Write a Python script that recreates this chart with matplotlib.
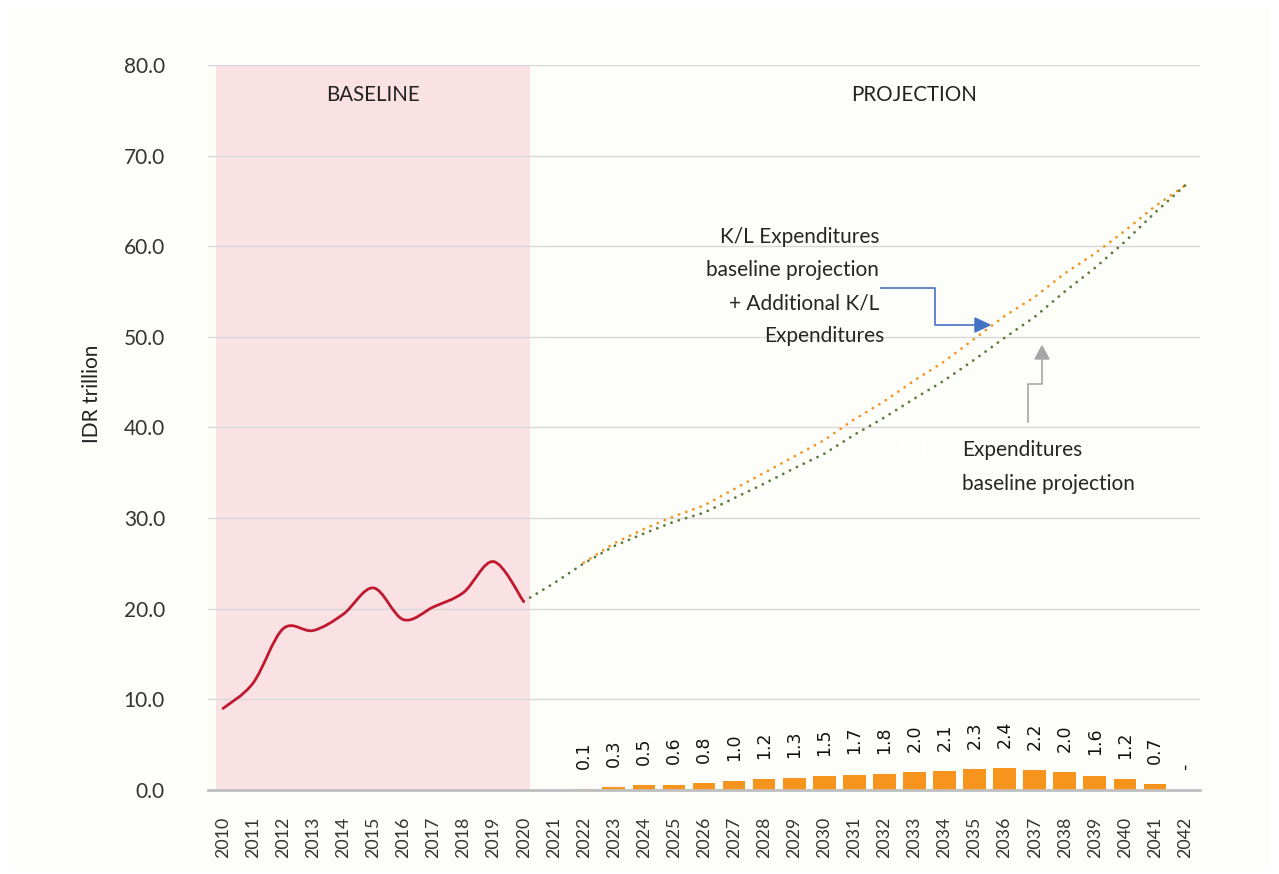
import numpy as np
import matplotlib
matplotlib.use("Agg")
import matplotlib.pyplot as plt
from matplotlib.path import Path
from matplotlib.patches import PathPatch, Rectangle

plt.rcParams['font.family'] = ['Lato', 'DejaVu Sans']

years = list(range(2010, 2043))

# historical K/L expenditures (2010-2020)
hist_years = list(range(2010, 2021))
hist_vals = [9.0, 11.8, 17.8, 17.6, 19.4, 22.3, 18.8, 20.2, 21.8, 25.2, 20.8]

# baseline projection (2020-2042)
base_years = list(range(2020, 2043))
base_vals = [20.8, 22.8, 25.0, 26.9, 28.3, 29.6, 30.6, 32.2, 33.8, 35.5, 37.1,
             39.2, 41.1, 43.2, 45.2, 47.5, 49.9, 52.2, 55.0, 57.6, 60.5, 63.7, 66.7]

# baseline + additional (2022-2042)
add_years = list(range(2022, 2043))
add_total = [25.1, 27.2, 28.8, 30.2, 31.4, 33.2, 35.0, 36.8, 38.6, 40.9, 42.9,
             45.2, 47.3, 49.8, 52.3, 54.4, 57.0, 59.2, 61.7, 64.4, 66.7]

# additional expenditures (bars)
bar_vals = [0.1, 0.3, 0.5, 0.6, 0.8, 1.0, 1.2, 1.3, 1.5, 1.7, 1.8,
            2.0, 2.1, 2.3, 2.4, 2.2, 2.0, 1.6, 1.2, 0.7, 0.0]
bar_labels = ['0.1', '0.3', '0.5', '0.6', '0.8', '1.0', '1.2', '1.3', '1.5', '1.7', '1.8',
              '2.0', '2.1', '2.3', '2.4', '2.2', '2.0', '1.6', '1.2', '0.7', '-']

txt = '#333333'
orange = '#F7941D'
green = '#5B7B3A'
red = '#C0182E'


def idx(ys):
    return [y - 2010 for y in ys]


def smooth_path(x, y, t=1 / 6):
    # catmull-rom style bezier like excel smoothed lines
    x = np.asarray(x, float)
    y = np.asarray(y, float)
    n = len(x)
    verts = [(x[0], y[0])]
    codes = [Path.MOVETO]
    for i in range(n - 1):
        x0, y0 = (x[i - 1], y[i - 1]) if i > 0 else (x[i], y[i])
        x3, y3 = (x[i + 2], y[i + 2]) if i + 2 < n else (x[i + 1], y[i + 1])
        c1 = (x[i] + (x[i + 1] - x0) * t, y[i] + (y[i + 1] - y0) * t)
        c2 = (x[i + 1] - (x3 - x[i]) * t, y[i + 1] - (y3 - y[i]) * t)
        verts += [c1, c2, (x[i + 1], y[i + 1])]
        codes += [Path.CURVE4] * 3
    return Path(verts, codes)


fig = plt.figure(figsize=(12.79, 8.74), dpi=100, facecolor='white')
fig.patches.append(Rectangle((8 / 1279, 8 / 874), 1 - 16 / 1279, 1 - 16 / 874,
                             transform=fig.transFigure, facecolor='#FDFDF9',
                             edgecolor='none', zorder=-10))
ax = fig.add_axes([208 / 1279, 1 - 790 / 874, 992 / 1279, 725 / 874])
ax.set_facecolor('none')

ax.set_xlim(-0.5, len(years) - 0.5)
ax.set_ylim(0, 80)

# baseline shading
ax.axvspan(-0.25, 10.2, ymin=0, ymax=1, color='#F9E1E4', lw=0, zorder=0)

ax.set_yticks(np.arange(0, 81, 10))
ax.set_yticklabels([f'{v:.1f}' for v in np.arange(0, 81, 10)], fontsize=15, color=txt)
ax.yaxis.grid(True, color='#D9D9D9', lw=1)
ax.set_axisbelow(True)
ax.set_xticks(range(len(years)))
ax.set_xticklabels([str(y) for y in years], rotation=90, fontsize=12.8, color=txt)
ax.tick_params(length=0)
ax.tick_params(axis='y', pad=31)
ax.tick_params(axis='x', pad=19)
for s in ['top', 'right', 'left']:
    ax.spines[s].set_visible(False)
ax.spines['bottom'].set_color('#BFBFBF')
ax.spines['bottom'].set_linewidth(2)

# bars
bx = idx(add_years)
ax.bar(bx, bar_vals, width=0.755, color=orange, zorder=2)
for x, v, lab in zip(bx, bar_vals, bar_labels):
    ax.annotate(lab, (x, v), xytext=(0, 14.5), textcoords='offset points',
                rotation=90, ha='center', va='bottom', fontsize=12.5, color='#111111',
                family=['DejaVu Sans'])

# lines
ax.add_patch(PathPatch(smooth_path(idx(hist_years), hist_vals), fill=False,
                       edgecolor=red, lw=2, zorder=4, capstyle='round'))
ax.plot(idx(add_years), add_total, color=orange, lw=2, ls=(0, (0.05, 2.7)),
        dash_capstyle='round', zorder=3)
ax.plot(idx(base_years), base_vals, color=green, lw=2, ls=(0, (0.05, 2.7)),
        dash_capstyle='round', zorder=3)

# section headings
ax.text(5, 76.7, 'BASELINE', ha='center', va='center', fontsize=14.8, color='#222222')
ax.text(23, 76.7, 'PROJECTION', ha='center', va='center', fontsize=14.8, color='#222222')

# annotations in pixel space (figure coords)
H = 874


def fpt(x, y):
    return (x / 1279, 1 - y / H)


fig.text(*fpt(92, 394), 'IDR trillion', rotation=90, ha='center', va='center',
         fontsize=15, color='#222222')

for yy, s in zip([237, 270, 303, 336],
                 ['K/L Expenditures', 'baseline projection', '+ Additional K/L', 'Expenditures']):
    xr = 884 if s == 'Expenditures' else 879
    fig.text(*fpt(xr, yy), s, ha='right', va='center', fontsize=15, color='#262626')

for yy, s in zip([450, 484], ['Expenditures', 'baseline projection']):
    fig.text(*fpt(962, yy), s, ha='left', va='center', fontsize=15, color='#262626')
fig.text(*fpt(915, 449), 'K/L', ha='center', va='center', fontsize=15, color='#FFFFFF')

# blue elbow connector
fig.lines.append(plt.Line2D([881 / 1279, 935 / 1279, 935 / 1279, 975 / 1279],
                            [1 - 288 / H, 1 - 288 / H, 1 - 325 / H, 1 - 325 / H],
                            transform=fig.transFigure, color='#4472C4', lw=1.2))
fig.patches.append(plt.Polygon([fpt(975, 318), fpt(975, 332), fpt(990, 325)],
                               transform=fig.transFigure, color='#4472C4'))
# gray elbow connector
fig.lines.append(plt.Line2D([1028 / 1279, 1028 / 1279, 1042 / 1279, 1042 / 1279],
                            [1 - 422 / H, 1 - 384 / H, 1 - 384 / H, 1 - 358 / H],
                            transform=fig.transFigure, color='#A6A6A6', lw=1.2))
fig.patches.append(plt.Polygon([fpt(1035, 359), fpt(1049, 359), fpt(1042, 346)],
                               transform=fig.transFigure, color='#A6A6A6'))

fig.savefig('out.png', dpi=100, facecolor='white')
